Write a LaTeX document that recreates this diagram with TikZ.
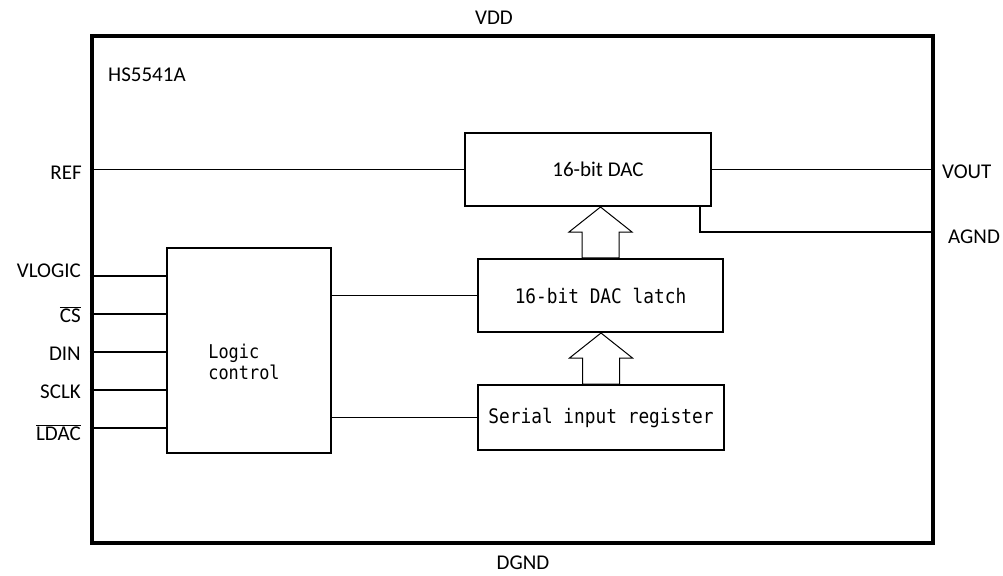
\documentclass[tikz,border=0pt]{standalone}
\usepackage{fontspec}
\setmainfont{Carlito}
\newfontfamily\gothic[FakeStretch=0.89]{DejaVu Sans Mono}
\tikzset{
    chip/.style={draw, line width=4bp, inner sep=0pt}, % 芯片外框
    blk/.style={draw, line width=2bp, inner sep=0pt, font=\gothic\fontsize{20bp}{24bp}\selectfont}, % 内部模块
    blktxt/.style={inner sep=0pt, font=\gothic\fontsize{19bp}{21bp}\selectfont},
    pinlbl/.style={inner sep=0pt, font=\fontsize{21bp}{25bp}\selectfont}, % 引脚名
    wire/.style={line width=1.3bp},
    bus/.style={line width=1bp, line join=miter}
}
% 空心总线箭头: #1 下方模块, #2 上方模块
\newcommand\busarrow[2]{%
    \draw[bus] (#2.south -| #1.north) coordinate (tip)
        -- ([shift={(-31.5,25)}]tip) -- ([shift={(-18.5,25)}]tip)
        -- ([xshift=-18.5bp]#1.north) -- ([xshift=18.5bp]#1.north)
        -- ([shift={(18.5,25)}]tip) -- ([shift={(31.5,25)}]tip) -- cycle;}

\begin{document}
\begin{tikzpicture}[x=1bp, y=-1bp]
    \useasboundingbox (0,0) rectangle (1003,576);
    \node[chip, minimum width=841bp, minimum height=507bp] (chip) at (512.5,289.5) {};
    \node[pinlbl, anchor=base west] (part) at (108,82) {HS5541A};
    \node[pinlbl, anchor=base] (vdd) at (494,25) {VDD};
    \node[pinlbl, anchor=base] (dgnd) at (523,569) {DGND};

    % 模块
    \node[blk, minimum width=246bp, minimum height=73bp,
        label={[pinlbl, xshift=10bp]center:16-bit DAC}] (dac) at (588,169.5) {};
    \node[blk, minimum width=245bp, minimum height=73bp] (latch) at (600.5,295.5) {16-bit DAC latch};
    \node[blk, minimum width=246bp, minimum height=65bp] (serial) at (601,417.5) {Serial input register};
    \node[blk, line width=1.5bp, minimum width=164bp, minimum height=205bp,
        label={[blktxt, align=left, xshift=-5bp, yshift=-11bp]center:Logic\\control}] (logic) at (249,350.5) {};

    \busarrow{latch}{dac}
    \busarrow{serial}{latch}

    % 模拟端
    \node[pinlbl, anchor=base east] (ref) at (82,180) {REF};
    \draw[wire] (chip.west |- dac.west) -- (dac.west);
    \node[pinlbl, anchor=base west] (vout) at (942,179) {VOUT};
    \draw[wire] (dac.east) -- (chip.east |- dac.east);
    \node[pinlbl, anchor=base west] (agnd) at (948,244) {AGND};
    \draw[wire] ([xshift=-12bp]dac.south east) |- (chip.east |- 0,232);

    \draw[wire] (logic.east |- latch.west) -- (latch.west);
    \draw[wire] (logic.east |- serial.west) -- (serial.west);

    % 数字输入
    \foreach \y/\b/\nm/\txt in {276/278/vlogic/VLOGIC, 314/322/cs/{$\overline{\mbox{CS}}$},
        352/360/din/DIN, 390/398/sclk/SCLK, 428/440/ldac/{$\overline{\mbox{LDAC}}$}} {
        \node[pinlbl, anchor=base east] (\nm) at (81,\b) {\txt};
        \draw[wire] (chip.west |- 0,\y) -- (logic.west |- 0,\y);
    }
\end{tikzpicture}
\end{document}
